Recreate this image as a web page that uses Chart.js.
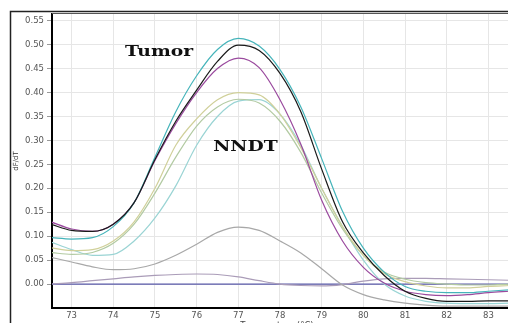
<!DOCTYPE html>
<html><head><meta charset="utf-8">
<script src="https://cdn.jsdelivr.net/npm/chart.js@4/dist/chart.umd.min.js"></script>
<style>
html,body{margin:0;padding:0;background:#fff;overflow:hidden}
#wrap{width:508px;height:323px;overflow:hidden;position:relative;background:#fff}
canvas{display:block}
</style></head><body>
<div id="wrap"><canvas id="c" width="528" height="323" style="width:528px;height:323px"></canvas></div>
<script>
// Temperature (°C) sample points
const temps = [72.5,73,73.5,74,74.5,75,75.5,76,76.5,77,77.5,78,78.5,79,79.5,80,80.5,81,81.5,82,82.5,83,83.5];
// Tumor samples
const tumorBlack  = [0.125,0.112,0.110,0.125,0.170,0.260,0.340,0.405,0.465,0.499,0.488,0.440,0.360,0.240,0.130,0.065,0.018,-0.015,-0.030,-0.036,-0.036,-0.035,-0.035];
const tumorTeal   = [0.097,0.094,0.097,0.120,0.170,0.265,0.360,0.435,0.490,0.513,0.497,0.448,0.370,0.262,0.152,0.075,0.025,-0.005,-0.015,-0.018,-0.018,-0.015,-0.012];
const tumorPurple = [0.130,0.115,0.110,0.125,0.170,0.258,0.335,0.400,0.450,0.472,0.452,0.385,0.292,0.175,0.090,0.035,0.002,-0.015,-0.022,-0.024,-0.022,-0.018,-0.015];
// NNDT samples
const nndtOlive   = [0.076,0.070,0.072,0.090,0.130,0.200,0.290,0.345,0.385,0.400,0.395,0.355,0.285,0.200,0.120,0.060,0.022,0.005,-0.004,-0.008,-0.008,-0.005,-0.003];
const nndtGreen   = [0.066,0.062,0.066,0.085,0.125,0.190,0.265,0.330,0.370,0.386,0.378,0.340,0.275,0.190,0.115,0.060,0.025,0.010,0.003,0.000,-0.002,-0.002,0.000];
const nndtCyan    = [0.088,0.072,0.060,0.062,0.090,0.138,0.205,0.290,0.350,0.382,0.385,0.355,0.290,0.200,0.120,0.050,0.000,-0.025,-0.036,-0.040,-0.041,-0.041,-0.040];
// Other traces
const lowGray     = [0.056,0.046,0.036,0.030,0.032,0.042,0.060,0.083,0.108,0.119,0.112,0.090,0.065,0.032,-0.002,-0.022,-0.033,-0.040,-0.044,-0.046,-0.046,-0.046,-0.046];
const lowMauve    = [0.000,0.003,0.007,0.011,0.015,0.018,0.020,0.021,0.020,0.015,0.007,0.000,-0.003,-0.004,-0.001,0.006,0.011,0.012,0.012,0.011,0.010,0.009,0.008];
const flatBlue    = [0,0,0,0,0,0,0,0,0,0,0,0,0,0,0,0,0,0,0,0,0,0,0];
// Axis ranges / labels
const xMin = 72.53, xMax = 83.95;
const yMin = -0.05, yMax = 0.564;
const yTitle = 'dF/dT';
const xTitle = 'Temperature (°C)';
// Annotation labels (data coordinates)
const labels = [
  {text:'Tumor', x:75.1, y:0.4845},
  {text:'NNDT',  x:77.17, y:0.286}
];

const series = [
  {name:'Tumor 1', data:tumorBlack,  color:'#1a1a1a'},
  {name:'Tumor 2', data:tumorTeal,   color:'#45b4ba'},
  {name:'Tumor 3', data:tumorPurple, color:'#9a4a9e'},
  {name:'NNDT 1',  data:nndtOlive,   color:'#d0d09a'},
  {name:'NNDT 2',  data:nndtGreen,   color:'#b2caa2'},
  {name:'NNDT 3',  data:nndtCyan,    color:'#9ad4d4'},
  {name:'Low 1',   data:lowGray,     color:'#a8a8a8'},
  {name:'Low 2',   data:lowMauve,    color:'#aa9cb8'},
  {name:'Blank',   data:flatBlue,    color:'#5858a8'}
];

const datasets = series.map(s => ({
  label: s.name,
  data: temps.map((t,i) => ({x:t, y:s.data[i]})),
  borderColor: s.color,
  borderWidth: 1.2,
  pointRadius: 0,
  fill: false,
  cubicInterpolationMode: 'monotone'
}));

const framePlugin = {
  id:'frame',
  afterDraw(chart){
    const ctx = chart.ctx, ca = chart.chartArea;
    ctx.save();
    // outer frame
    ctx.strokeStyle = '#222'; ctx.lineWidth = 1.5;
    ctx.beginPath(); ctx.moveTo(10.5, 330); ctx.lineTo(10.5, 11.5); ctx.lineTo(chart.width, 11.5); ctx.stroke();
    // plot top border
    ctx.strokeStyle = '#555'; ctx.lineWidth = 1;
    ctx.beginPath(); ctx.moveTo(ca.left, ca.top - 0.5); ctx.lineTo(ca.right, ca.top - 0.5); ctx.stroke();
    // annotation texts
    const xs = chart.scales.x, ys = chart.scales.y;
    ctx.fillStyle = '#111';
    ctx.font = 'bold 14px "DejaVu Serif"';
    ctx.textAlign = 'center'; ctx.textBaseline = 'middle';
    labels.forEach(l => {
      const px = xs.getPixelForValue(l.x), py = ys.getPixelForValue(l.y);
      ctx.save(); ctx.translate(px, py); ctx.scale(1.34, 1); ctx.fillText(l.text, 0, 0); ctx.restore();
    });
    // x title (cut at bottom)
    ctx.fillStyle = '#444';
    ctx.font = '8.5px "DejaVu Sans"';
    ctx.textBaseline = 'alphabetic';
    ctx.fillText(xTitle, 277, 328);
    ctx.restore();
  }
};

new Chart(document.getElementById('c'), {
  type:'line',
  data:{datasets},
  options:{
    responsive:false,
    animation:false,
    devicePixelRatio:1,
    layout:{padding:{top:14,left:0,right:0,bottom:0}},
    plugins:{legend:{display:false}, tooltip:{enabled:false}},
    scales:{
      x:{
        type:'linear', min:xMin, max:xMax,
        ticks:{stepSize:1, includeBounds:false, color:'#555', font:{family:'DejaVu Sans', size:8.5}, padding:3,
          callback:v => String(Math.round(v)), maxRotation:0},
        grid:{color:'#e6e6e6', lineWidth:1, drawTicks:false},
        border:{display:true, color:'#000', width:2},
        afterFit(s){ s.height = 15; }
      },
      y:{
        type:'linear', min:yMin, max:yMax,
        afterBuildTicks(s){ s.ticks = s.ticks.filter(t => t.value > -0.001); },
        ticks:{stepSize:0.05, includeBounds:false, color:'#555', font:{family:'DejaVu Sans', size:8.5}, padding:3,
          callback:v => Number(v).toFixed(2)},
        grid:{color:'#e6e6e6', lineWidth:1, tickLength:5, tickColor:'#999'},
        border:{display:true, color:'#000', width:2},
        title:{display:true, text:yTitle, color:'#333', font:{family:'DejaVu Sans', size:7}, padding:{top:12,bottom:0}},
        afterFit(s){ s.width = 52; }
      }
    }
  },
  plugins:[framePlugin]
});
</script>
</body></html>
